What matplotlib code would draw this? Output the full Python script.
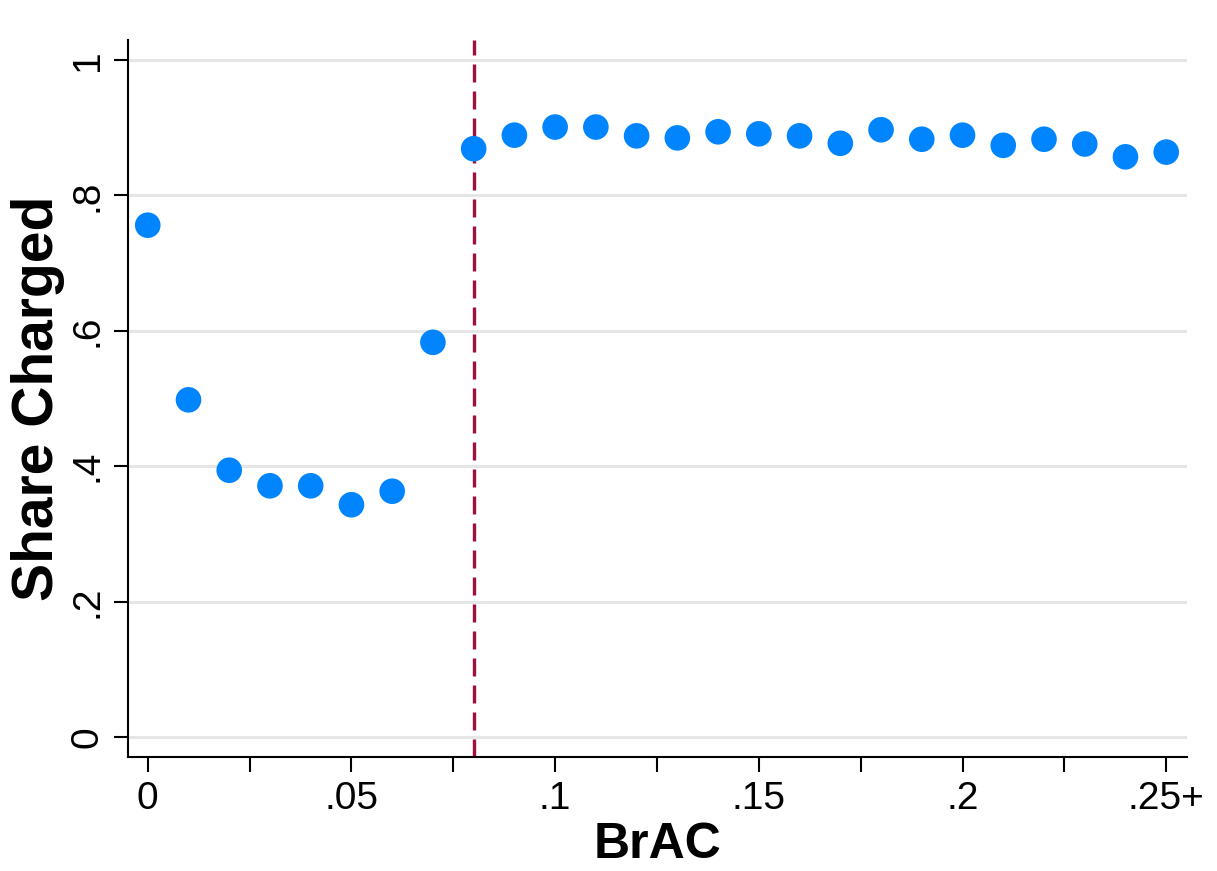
import numpy as np
import matplotlib
matplotlib.use("Agg")
import matplotlib.pyplot as plt
from matplotlib.ticker import FixedLocator

# BrAC bins (last bin is .25+)
brac = [0.00, 0.01, 0.02, 0.03, 0.04, 0.05, 0.06, 0.07, 0.08, 0.09,
        0.10, 0.11, 0.12, 0.13, 0.14, 0.15, 0.16, 0.17, 0.18, 0.19,
        0.20, 0.21, 0.22, 0.23, 0.24, 0.25]
share_charged = [0.756, 0.498, 0.394, 0.371, 0.371, 0.343, 0.363, 0.583, 0.869, 0.889,
                 0.901, 0.901, 0.888, 0.885, 0.894, 0.891, 0.888, 0.877, 0.897, 0.883,
                 0.889, 0.874, 0.883, 0.876, 0.857, 0.864]
cutoff = 0.08

x_ticks = [0, 0.05, 0.10, 0.15, 0.20, 0.25]
x_labels = ["0", ".05", ".1", ".15", ".2", ".25+"]
y_ticks = [0, 0.2, 0.4, 0.6, 0.8, 1.0]
y_labels = ["0", ".2", ".4", ".6", ".8", "1"]

plt.rcParams["font.family"] = ["Liberation Sans", "DejaVu Sans"]

fig = plt.figure(figsize=(12.17, 8.71), dpi=100)
ax = fig.add_axes([0.105, 0.131, 0.870, 0.823])

for y in y_ticks:
    ax.axhline(y, color="#e6e6e6", lw=2.2, zorder=0)

ax.axvline(cutoff, color="#a0103a", lw=2.4, ls=(0, (5.4, 2.7)), zorder=1)
ax.scatter(brac, share_charged, s=340, color="#0085ff", edgecolor="none", zorder=3)

ax.set_xlim(-0.0049, 0.255)
ax.set_ylim(-0.0295, 1.0295)

ax.set_xticks(x_ticks)
ax.set_xticklabels(x_labels)
ax.xaxis.set_minor_locator(FixedLocator([0.025, 0.075, 0.125, 0.175, 0.225]))
ax.set_yticks(y_ticks)
ax.set_yticklabels(y_labels, rotation=90, va="center")

ax.tick_params(axis="x", which="both", length=11, width=1.5, labelsize=28, pad=6)
ax.tick_params(axis="y", length=10, width=1.5, labelsize=28, pad=6)

for side in ("top", "right"):
    ax.spines[side].set_visible(False)
for side in ("left", "bottom"):
    ax.spines[side].set_linewidth(1.5)

ax.set_xlabel("BrAC", fontsize=36, fontweight="bold", labelpad=4)
ax.set_ylabel("Share Charged", fontsize=41, fontweight="bold", labelpad=3)

fig.savefig("out.png", dpi=100)
plt.close(fig)
